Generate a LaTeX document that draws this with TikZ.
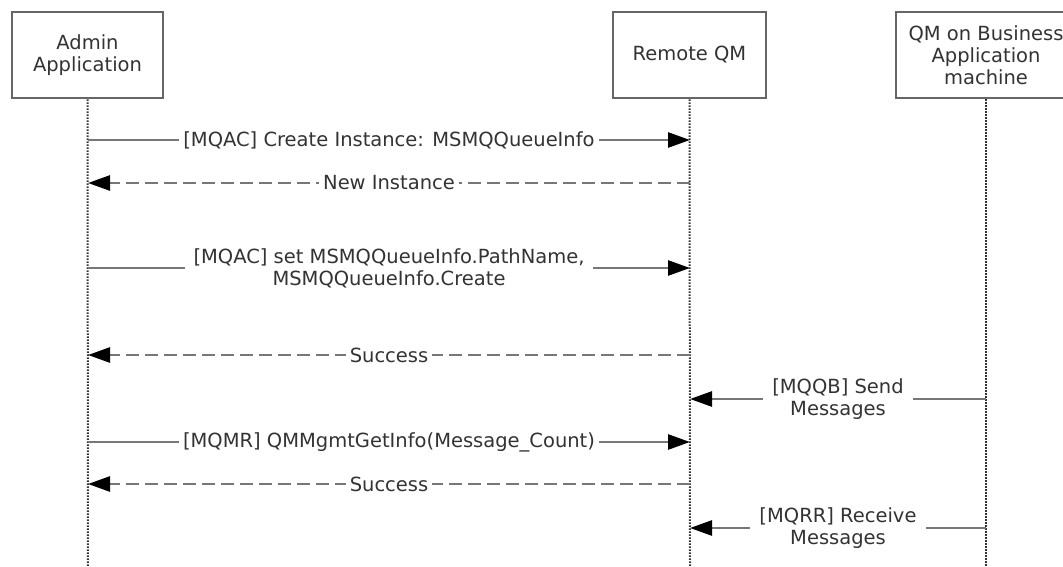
\documentclass[tikz,border=0pt]{standalone}
\usepackage{fontspec}
\setmainfont{DejaVu Sans}
\usetikzlibrary{arrows.meta}
\definecolor{txt}{HTML}{333333}
\definecolor{ln}{HTML}{777777}
\definecolor{bx}{HTML}{666666}
\definecolor{life}{HTML}{333333}
\begin{document}
\begin{tikzpicture}[x=1pt,y=-1pt,
  every node/.style={text=txt,font=\fontsize{19.5}{22}\selectfont},
  actor/.style={draw=bx,line width=2.6pt,fill=white,minimum height=86pt,align=center,inner sep=0pt},
  lifeline/.style={draw=life,line width=2pt,dash pattern=on 1.5pt off 1.5pt},
  msg/.style={draw=ln,line width=2.6pt,-{Triangle[length=22pt,width=15pt,fill=black,color=black]}},
  reply/.style={msg,dash pattern=on 13pt off 6pt},
  lbl/.style={fill=white,inner xsep=4pt,inner ysep=2pt,align=center},
  lbltwo/.style={lbl,inner xsep=9pt}]
\useasboundingbox (0,0) rectangle (1063,567);
\clip (0,0) rectangle (1063,567);
% actors
\node[actor,minimum width=151pt] (admin) at (87.5,55) {Admin\\Application};
\node[actor,minimum width=153pt] (remote) at (689.5,55) {Remote QM};
\node[actor,minimum width=180pt] (biz) at (986,55) {QM on Business\\Application\\machine};
% lifeline ends
\coordinate (adminEnd) at (88,567);
\coordinate (remoteEnd) at (690,567);
\coordinate (bizEnd) at (986,567);
\draw[lifeline] (admin.south) -- (adminEnd);
\draw[lifeline] (remote.south) -- (remoteEnd);
\draw[lifeline] (biz.south) -- (bizEnd);
% message anchor points
\foreach \i/\y in {1/140,2/183,3/268,4/355,5/399,6/442,7/484,8/528}{
  \coordinate (a\i) at (88,\y);
  \coordinate (r\i) at (690,\y);
  \coordinate (b\i) at (986,\y);
}
\draw[msg] (a1) -- node[lbl] (m1) {[MQAC] Create Instance: MSMQQueueInfo} (r1);
\draw[reply] (r2) -- node[lbl] (m2) {New Instance} (a2);
\draw[msg] (a3) -- node[lbltwo] (m3) {[MQAC] set MSMQQueueInfo.PathName,\\MSMQQueueInfo.Create} (r3);
\draw[reply] (r4) -- node[lbl] (m4) {Success} (a4);
\draw[msg] (b5) -- node[lbltwo] (m5) {[MQQB] Send\\Messages} (r5);
\draw[msg] (a6) -- node[lbl] (m6) {[MQMR] QMMgmtGetInfo(Message\_Count)} (r6);
\draw[reply] (r7) -- node[lbl] (m7) {Success} (a7);
\draw[msg] (b8) -- node[lbltwo] (m8) {[MQRR] Receive\\Messages} (r8);
\end{tikzpicture}
\end{document}
